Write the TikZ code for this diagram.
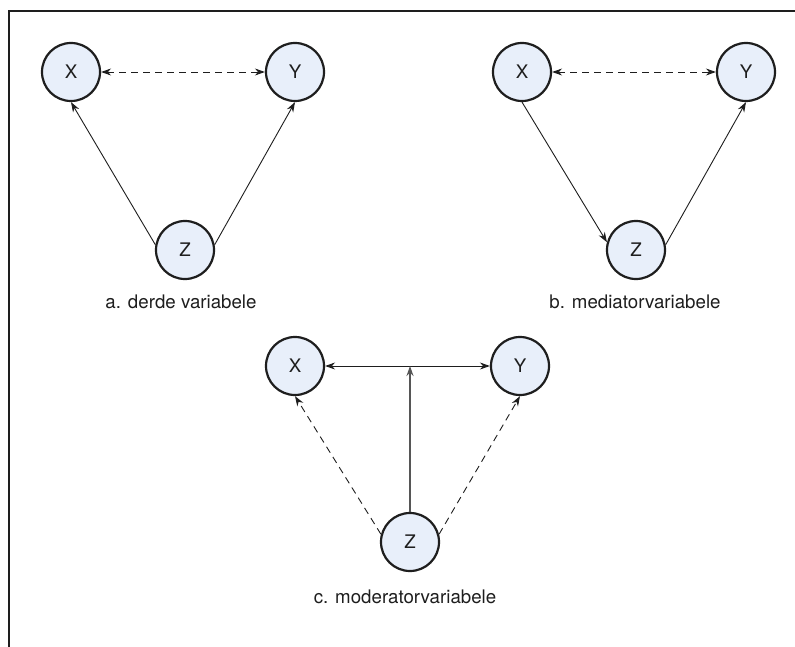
\documentclass[tikz,border=0pt]{standalone}
\usepackage{fontspec}
\setmainfont{TeX Gyre Heros}
\usetikzlibrary{arrows.meta}
\definecolor{nodefill}{HTML}{E8EFFA}
\definecolor{ink}{HTML}{1E1E1E}
\begin{document}
\begin{tikzpicture}[x=1pt,y=-1pt,
  var/.style={circle,draw=ink,line width=2.2pt,fill=nodefill,minimum size=58pt,inner sep=0pt,font=\fontsize{18.7}{22}\selectfont,text=ink},
  captext/.style={font=\fontsize{18.7}{22}\selectfont,text=ink},
  conn/.style={draw=ink,line width=0.9pt,-{Stealth[length=10pt,width=7pt]}},
  bothconn/.style={draw=ink,line width=0.9pt,{Stealth[length=10pt,width=7pt]}-{Stealth[length=10pt,width=7pt]}},
  dashedconn/.style={dash pattern=on 7pt off 5pt}]
\useasboundingbox (0,0) rectangle (795,647);
\fill[white] (0,0) rectangle (795,647);
% frame
\draw[ink,line width=1.5pt] (9,647) -- (9,11) -- (795,11);
% panel a
\node[var] (aX) at (71,72) {X};
\node[var] (aY) at (295,72) {Y};
\node[var] (aZ) at (185,250) {Z};
\draw[bothconn,dashedconn] (aX) -- (aY);
\draw[conn] (aZ.170) -- (aX.south);
\draw[conn] (aZ.10) -- (aY.south);
\node[captext] (alab) at (181,302) {a. derde variabele};
% panel b
\node[var] (bX) at (522,72) {X};
\node[var] (bY) at (746,72) {Y};
\node[var] (bZ) at (636,250) {Z};
\draw[bothconn,dashedconn] (bX) -- (bY);
\draw[conn] (bX.south) -- (bZ.165);
\draw[conn] (bZ.10) -- (bY.south);
\node[captext] (blab) at (635,302) {b. mediatorvariabele};
% panel c
\node[var] (cX) at (295,366) {X};
\node[var] (cY) at (520,366) {Y};
\node[var] (cZ) at (410,542) {Z};
\coordinate (cM) at (410,366);
\draw[bothconn] (cX) -- (cY);
\draw[draw=ink!75,line width=1.4pt,-{Stealth[length=10pt,width=7pt]}] (cZ.north) -- (cM);
\draw[conn,dashedconn] (cZ.165) -- (cX.south);
\draw[conn,dashedconn] (cZ.15) -- (cY.south);
\node[captext] (clab) at (405,597) {c. moderatorvariabele};
\end{tikzpicture}
\end{document}
